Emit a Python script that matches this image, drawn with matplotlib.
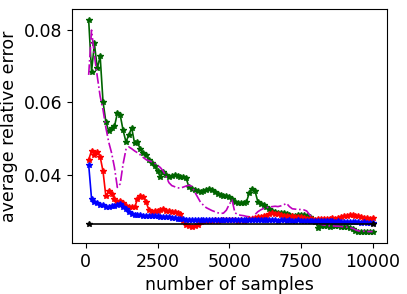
import matplotlib
matplotlib.use("Agg")
import matplotlib.pyplot as plt
import numpy as np

# sample counts, 100 .. 10000 in steps of 100
samples = np.arange(100, 10001, 100)

err_green = [0.0828, 0.0685, 0.0763, 0.0694, 0.0728, 0.0602, 0.0546, 0.0521, 0.0528, 0.0534,
             0.0570, 0.0565, 0.0523, 0.0491, 0.0510, 0.0530, 0.0487, 0.0491, 0.0470, 0.0459,
             0.0454, 0.0440, 0.0432, 0.0423, 0.0410, 0.0394, 0.0408, 0.0400, 0.0395, 0.0396,
             0.0399, 0.0397, 0.0394, 0.0393, 0.0390, 0.0365, 0.0360, 0.0357, 0.0355, 0.0353,
             0.0356, 0.0358, 0.0362, 0.0358, 0.0353, 0.0347, 0.0344, 0.0342, 0.0340, 0.0339,
             0.0332, 0.0325, 0.0323, 0.0321, 0.0322, 0.0325, 0.0350, 0.0362, 0.0355, 0.0325,
             0.0320, 0.0316, 0.0310, 0.0306, 0.0301, 0.0298, 0.0295, 0.0294, 0.0293, 0.0291,
             0.0288, 0.0286, 0.0285, 0.0288, 0.0290, 0.0288, 0.0285, 0.0282, 0.0277, 0.0270,
             0.0254, 0.0257, 0.0258, 0.0257, 0.0256, 0.0257, 0.0258, 0.0257, 0.0256, 0.0256,
             0.0255, 0.0254, 0.0250, 0.0245, 0.0242, 0.0241, 0.0242, 0.0242, 0.0241, 0.0241]

err_magenta = [0.0676, 0.0800, 0.0730, 0.0672, 0.0617, 0.0580, 0.0530, 0.0490, 0.0460, 0.0420,
               0.0365, 0.0375, 0.0430, 0.0470, 0.0477, 0.0472, 0.0466, 0.0461, 0.0455, 0.0448,
               0.0442, 0.0439, 0.0436, 0.0432, 0.0426, 0.0420, 0.0410, 0.0395, 0.0378, 0.0370,
               0.0367, 0.0364, 0.0363, 0.0366, 0.0369, 0.0371, 0.0368, 0.0352, 0.0338, 0.0324,
               0.0316, 0.0309, 0.0305, 0.0301, 0.0298, 0.0295, 0.0293, 0.0294, 0.0302, 0.0318,
               0.0330, 0.0295, 0.0290, 0.0288, 0.0287, 0.0285, 0.0284, 0.0283, 0.0290, 0.0298,
               0.0303, 0.0307, 0.0309, 0.0311, 0.0312, 0.0313, 0.0312, 0.0314, 0.0317, 0.0321,
               0.0312, 0.0306, 0.0305, 0.0304, 0.0304, 0.0303, 0.0300, 0.0290, 0.0280, 0.0272,
               0.0266, 0.0263, 0.0261, 0.0260, 0.0259, 0.0259, 0.0258, 0.0258, 0.0257, 0.0256,
               0.0255, 0.0254, 0.0252, 0.0248, 0.0245, 0.0244, 0.0244, 0.0243, 0.0243, 0.0243]

err_red = [0.0442, 0.0466, 0.0456, 0.0463, 0.0450, 0.0410, 0.0340, 0.0354, 0.0348, 0.0332,
           0.0326, 0.0327, 0.0323, 0.0315, 0.0310, 0.0311, 0.0310, 0.0332, 0.0342, 0.0338,
           0.0325, 0.0303, 0.0298, 0.0301, 0.0300, 0.0302, 0.0305, 0.0301, 0.0299, 0.0297,
           0.0298, 0.0295, 0.0291, 0.0272, 0.0260, 0.0257, 0.0256, 0.0257, 0.0262, 0.0270,
           0.0273, 0.0272, 0.0273, 0.0272, 0.0274, 0.0273, 0.0275, 0.0274, 0.0276, 0.0275,
           0.0276, 0.0275, 0.0273, 0.0274, 0.0273, 0.0275, 0.0277, 0.0279, 0.0281, 0.0283,
           0.0284, 0.0286, 0.0287, 0.0291, 0.0293, 0.0292, 0.0291, 0.0290, 0.0287, 0.0285,
           0.0284, 0.0285, 0.0284, 0.0283, 0.0282, 0.0280, 0.0279, 0.0278, 0.0277, 0.0276,
           0.0277, 0.0278, 0.0279, 0.0278, 0.0279, 0.0280, 0.0279, 0.0281, 0.0283, 0.0285,
           0.0287, 0.0288, 0.0288, 0.0287, 0.0285, 0.0283, 0.0280, 0.0280, 0.0279, 0.0280]

err_blue = [0.0428, 0.0334, 0.0326, 0.0322, 0.0317, 0.0316, 0.0312, 0.0311, 0.0313, 0.0315,
            0.0317, 0.0318, 0.0311, 0.0305, 0.0298, 0.0292, 0.0289, 0.0288, 0.0288, 0.0287,
            0.0287, 0.0286, 0.0286, 0.0285, 0.0285, 0.0284, 0.0284, 0.0283, 0.0282, 0.0281,
            0.0280, 0.0279, 0.0278, 0.0277, 0.0276, 0.0276, 0.0275, 0.0275, 0.0276, 0.0275,
            0.0275, 0.0274, 0.0275, 0.0275, 0.0276, 0.0275, 0.0275, 0.0274, 0.0275, 0.0275,
            0.0276, 0.0275, 0.0274, 0.0275, 0.0275, 0.0274, 0.0275, 0.0275, 0.0274, 0.0274,
            0.0275, 0.0274, 0.0274, 0.0275, 0.0274, 0.0274, 0.0273, 0.0274, 0.0274, 0.0273,
            0.0274, 0.0273, 0.0273, 0.0274, 0.0273, 0.0273, 0.0272, 0.0273, 0.0272, 0.0272,
            0.0272, 0.0271, 0.0272, 0.0271, 0.0271, 0.0271, 0.0270, 0.0271, 0.0270, 0.0270,
            0.0270, 0.0269, 0.0270, 0.0269, 0.0269, 0.0268, 0.0269, 0.0268, 0.0268, 0.0268]

# reference level, flat over the whole range
ref_x = [100, 10000]
ref_err = [0.0264, 0.0264]

fs = 12.5
fig = plt.figure(figsize=(4.07, 2.94), dpi=100)
ax = fig.add_axes([0.177, 0.173, 0.773, 0.796])

ax.plot(samples, err_green, '*-', color='darkgreen', lw=1.2, ms=4)
ax.plot(samples, err_magenta, 'm-.', lw=1.2)
ax.plot(samples, err_red, 'r*-', lw=1.2, ms=4)
ax.plot(samples, err_blue, 'b*-', lw=1.2, ms=4)
ax.plot(ref_x, ref_err, 'k*-', lw=1.2, ms=4)

ax.set_xlim(-480, 10490)
ax.set_ylim(0.0211, 0.0858)
ax.set_xticks([0, 2500, 5000, 7500, 10000])
ax.set_yticks([0.04, 0.06, 0.08])
ax.tick_params(labelsize=fs)
ax.set_xlabel("number of samples", fontsize=fs)
ax.set_ylabel("average relative error", fontsize=fs)

fig.savefig("out.png", dpi=100)
